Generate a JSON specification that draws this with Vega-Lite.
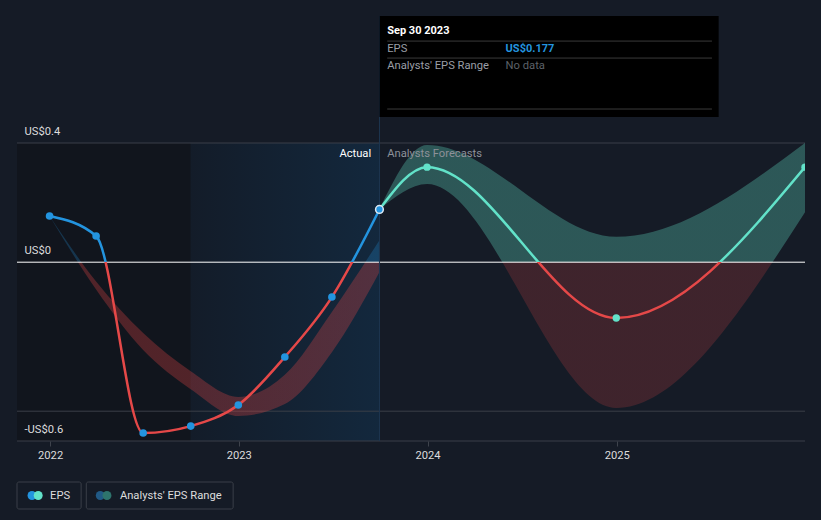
{
  "$schema": "https://vega.github.io/schema/vega-lite/v6.json",
  "autosize": "none",
  "width": 788,
  "height": 298,
  "padding": {"left": 17, "top": 143, "right": 16, "bottom": 79},
  "background": "#151b26",
  "config": {"view": {"stroke": null}, "font": "Roboto", "text": {"font": "Roboto", "fontSize": 11.2, "baseline": "middle"}},
  "data": {"values": [{"annotation": 1}]},
  "datasets": {
    "actual": [
      {"date": "2021-12-31", "eps": 0.155},
      {"date": "2022-03-31", "eps": 0.088},
      {"date": "2022-06-30", "eps": -0.573},
      {"date": "2022-09-30", "eps": -0.55},
      {"date": "2022-12-31", "eps": -0.479},
      {"date": "2023-03-31", "eps": -0.318},
      {"date": "2023-06-30", "eps": -0.117},
      {"date": "2023-09-30", "eps": 0.177}
    ],
    "forecast": [
      {"date": "2023-09-30", "eps": 0.177},
      {"date": "2023-12-31", "eps": 0.319},
      {"date": "2024-12-31", "eps": -0.187},
      {"date": "2025-12-31", "eps": 0.319}
    ],
    "pastRange": [
      {"date": "2021-12-31", "low": 0.155, "high": 0.155},
      {"date": "2022-03-31", "low": -0.092, "high": -0.065},
      {"date": "2022-06-30", "low": -0.295, "high": -0.238},
      {"date": "2022-09-30", "low": -0.426, "high": -0.366},
      {"date": "2022-12-31", "low": -0.516, "high": -0.452},
      {"date": "2023-03-31", "low": -0.476, "high": -0.378},
      {"date": "2023-06-30", "low": -0.302, "high": -0.167},
      {"date": "2023-09-30", "low": -0.033, "high": 0.074}
    ],
    "forecastRange": [
      {"date": "2023-09-30", "low": 0.177, "high": 0.177},
      {"date": "2023-12-31", "low": 0.262, "high": 0.393},
      {"date": "2024-12-31", "low": -0.489, "high": 0.085},
      {"date": "2025-12-31", "low": 0.168, "high": 0.4}
    ],
    "grid": [{"v": 0.4}, {"v": -0.5}, {"v": -0.6}],
    "tipLines": [{"v": 0.742}, {"v": 0.685}, {"v": 0.514}]
  },
  "layer": [
    {
      "mark": {"type": "rect", "color": "#11151d"},
      "encoding": {
        "x": {"datum": {"year": 2021, "month": 10, "date": 29, "utc": true}, "type": "temporal"},
        "x2": {"datum": {"year": 2022, "month": 9, "date": 30, "utc": true}},
        "y": {"datum": 0.4, "type": "quantitative"},
        "y2": {"datum": -0.6}
      }
    },
    {
      "mark": {"type": "rect", "fill": {"gradient": "linear", "x1": 0, "y1": 0, "x2": 1, "y2": 0, "stops": [{"offset": 0, "color": "#131c29"}, {"offset": 1, "color": "#13283d"}]}},
      "encoding": {
        "x": {"datum": {"year": 2022, "month": 9, "date": 30, "utc": true}, "type": "temporal"},
        "x2": {"datum": {"year": 2023, "month": 9, "date": 30, "utc": true}},
        "y": {"datum": 0.4, "type": "quantitative"},
        "y2": {"datum": -0.6}
      }
    },
    {
      "data": {"name": "grid"},
      "mark": {"type": "rule", "color": "#3a3f48", "strokeWidth": 1},
      "encoding": {"y": {"field": "v", "type": "quantitative", "title": null}}
    },
    {
      "data": {"name": "pastRange"},
      "mark": {"type": "area", "interpolate": "monotone", "clip": true, "opacity": 1,
        "fill": {"gradient": "linear", "x1": 0, "y1": 0, "x2": 0, "y2": 1, "stops": [
          {"offset": 0, "color": "rgba(35,148,223,0.25)"},
          {"offset": 0.231, "color": "rgba(35,148,223,0.25)"},
          {"offset": 0.231, "color": "rgba(230,69,69,0.3)"},
          {"offset": 1, "color": "rgba(230,69,69,0.3)"}]}},
      "encoding": {
        "x": {"field": "date", "type": "temporal", "title": null},
        "y": {"field": "high", "type": "quantitative", "title": null},
        "y2": {"field": "low"}
      }
    },
    {
      "data": {"name": "forecastRange"},
      "mark": {"type": "area", "interpolate": "monotone", "clip": true, "opacity": 1,
        "fill": {"gradient": "linear", "x1": 0, "y1": 0, "x2": 0, "y2": 1, "stops": [
          {"offset": 0, "color": "rgba(100,227,201,0.3)"},
          {"offset": 0.44994, "color": "rgba(100,227,201,0.3)"},
          {"offset": 0.44994, "color": "rgba(230,69,69,0.2)"},
          {"offset": 1, "color": "rgba(230,69,69,0.2)"}]}},
      "encoding": {
        "x": {"field": "date", "type": "temporal", "title": null},
        "y": {"field": "high", "type": "quantitative", "title": null},
        "y2": {"field": "low"}
      }
    },
    {
      "mark": {"type": "rule", "color": "#ffffff", "strokeWidth": 1},
      "encoding": {"y": {"datum": 0, "type": "quantitative"}}
    },
    {
      "mark": {"type": "rule", "color": "#1e3650", "strokeWidth": 1},
      "encoding": {
        "x": {"datum": {"year": 2023, "month": 9, "date": 30, "utc": true}, "type": "temporal"},
        "y": {"datum": 0.826, "type": "quantitative"},
        "y2": {"datum": -0.6}
      }
    },
    {
      "data": {"name": "actual"},
      "mark": {"type": "line", "interpolate": "monotone", "strokeWidth": 2.5, "clip": true,
        "stroke": {"gradient": "linear", "x1": 0, "y1": 0, "x2": 0, "y2": 1, "stops": [
          {"offset": 0, "color": "#2394df"},
          {"offset": 0.236, "color": "#2394df"},
          {"offset": 0.236, "color": "#e54848"},
          {"offset": 1, "color": "#e54848"}]}},
      "encoding": {
        "x": {"field": "date", "type": "temporal", "title": null,
          "scale": {"type": "utc", "nice": false, "domain": [{"year": 2021, "month": 10, "date": 29, "utc": true}, {"year": 2025, "month": 12, "date": 31, "utc": true}]},
          "axis": {"values": [{"year": 2022, "month": 1, "date": 1, "utc": true}, {"year": 2023, "month": 1, "date": 1, "utc": true}, {"year": 2024, "month": 1, "date": 1, "utc": true}, {"year": 2025, "month": 1, "date": 1, "utc": true}],
            "format": "%Y", "domain": false, "grid": false, "ticks": true, "tickSize": 5, "tickColor": "#3e434c",
            "labelColor": "#dddddd", "labelFontSize": 11.2, "labelFont": "Roboto", "labelPadding": 3, "labelFlush": false, "zindex": 1}},
        "y": {"field": "eps", "type": "quantitative", "title": null,
          "scale": {"domain": [-0.6, 0.4], "nice": false, "zero": false},
          "axis": {"values": [-0.6, 0, 0.4],
            "labelExpr": "datum.value == 0 ? 'US$0' : (datum.value < 0 ? '-US$' + format(-datum.value, '.1f') : 'US$' + format(datum.value, '.1f'))",
            "domain": false, "ticks": false, "tickSize": 0, "grid": false, "labelAlign": "left", "labelBaseline": "bottom",
            "labelPadding": -7, "labelOffset": -7, "labelColor": "#dddddd", "labelFontSize": 11.2, "labelFont": "Roboto", "labelFlush": false, "zindex": 1}}
      }
    },
    {
      "data": {"name": "forecast"},
      "mark": {"type": "line", "interpolate": "monotone", "strokeWidth": 2.5, "clip": true,
        "stroke": {"gradient": "linear", "x1": 0, "y1": 0, "x2": 0, "y2": 1, "stops": [
          {"offset": 0, "color": "#62e2c9"},
          {"offset": 0.6304, "color": "#62e2c9"},
          {"offset": 0.6304, "color": "#e54848"},
          {"offset": 1, "color": "#e54848"}]}},
      "encoding": {
        "x": {"field": "date", "type": "temporal", "title": null},
        "y": {"field": "eps", "type": "quantitative", "title": null}
      }
    },
    {
      "data": {"name": "actual"},
      "transform": [{"filter": "datum.eps != 0.177"}],
      "mark": {"type": "circle", "size": 58, "color": "#2394df", "opacity": 1, "clip": true},
      "encoding": {
        "x": {"field": "date", "type": "temporal", "title": null},
        "y": {"field": "eps", "type": "quantitative", "title": null}
      }
    },
    {
      "data": {"name": "forecast"},
      "transform": [{"filter": "datum.eps != 0.177"}],
      "mark": {"type": "circle", "size": 55, "color": "#62e2c9", "opacity": 1, "clip": true},
      "encoding": {
        "x": {"field": "date", "type": "temporal", "title": null},
        "y": {"field": "eps", "type": "quantitative", "title": null}
      }
    },
    {
      "data": {"name": "actual"},
      "transform": [{"filter": "datum.eps == 0.177"}],
      "mark": {"type": "circle", "size": 60, "fill": "#2394df", "stroke": "#dde8f2", "strokeWidth": 1.5, "opacity": 1},
      "encoding": {
        "x": {"field": "date", "type": "temporal", "title": null},
        "y": {"field": "eps", "type": "quantitative", "title": null}
      }
    },
    {
      "mark": {"type": "rect", "fill": "#000000"},
      "encoding": {
        "x": {"datum": {"year": 2023, "month": 9, "date": 30, "utc": true}, "type": "temporal"},
        "x2": {"datum": {"year": 2025, "month": 7, "date": 17, "utc": true}},
        "y": {"datum": 0.826, "type": "quantitative"},
        "y2": {"datum": 0.487}
      }
    },
    {
      "data": {"name": "tipLines"},
      "mark": {"type": "rule", "color": "#3a3a3a", "strokeWidth": 1},
      "encoding": {
        "x": {"datum": {"year": 2023, "month": 10, "date": 15, "utc": true}, "type": "temporal"},
        "x2": {"datum": {"year": 2025, "month": 7, "date": 4, "utc": true}},
        "y": {"field": "v", "type": "quantitative", "title": null}
      }
    },
    {
      "mark": {"type": "text", "text": "Sep 30 2023", "align": "left", "color": "#ffffff", "fontWeight": "bold", "fontSize": 11},
      "encoding": {
        "x": {"datum": {"year": 2023, "month": 10, "date": 15, "utc": true}, "type": "temporal"},
        "y": {"datum": 0.776, "type": "quantitative"}
      }
    },
    {
      "mark": {"type": "text", "text": "EPS", "align": "left", "color": "#9a9ea6"},
      "encoding": {
        "x": {"datum": {"year": 2023, "month": 10, "date": 15, "utc": true}, "type": "temporal"},
        "y": {"datum": 0.715, "type": "quantitative"}
      }
    },
    {
      "mark": {"type": "text", "text": "US$0.177", "align": "left", "color": "#2394df", "fontWeight": "bold", "fontSize": 11},
      "encoding": {
        "x": {"datum": {"year": 2024, "month": 5, "date": 31, "utc": true}, "type": "temporal"},
        "y": {"datum": 0.715, "type": "quantitative"}
      }
    },
    {
      "mark": {"type": "text", "text": "Analysts' EPS Range", "align": "left", "color": "#9a9ea6"},
      "encoding": {
        "x": {"datum": {"year": 2023, "month": 10, "date": 15, "utc": true}, "type": "temporal"},
        "y": {"datum": 0.658, "type": "quantitative"}
      }
    },
    {
      "mark": {"type": "text", "text": "No data", "align": "left", "color": "#5c6068"},
      "encoding": {
        "x": {"datum": {"year": 2024, "month": 5, "date": 31, "utc": true}, "type": "temporal"},
        "y": {"datum": 0.658, "type": "quantitative"}
      }
    },
    {
      "mark": {"type": "text", "text": "Actual", "align": "right", "color": "#ffffff"},
      "encoding": {
        "x": {"datum": {"year": 2023, "month": 9, "date": 14, "utc": true}, "type": "temporal"},
        "y": {"datum": 0.363, "type": "quantitative"}
      }
    },
    {
      "mark": {"type": "text", "text": "Analysts Forecasts", "align": "left", "color": "#8d9199"},
      "encoding": {
        "x": {"datum": {"year": 2023, "month": 10, "date": 15, "utc": true}, "type": "temporal"},
        "y": {"datum": 0.363, "type": "quantitative"}
      }
    },
    {
      "mark": {"type": "rect", "fill": null, "stroke": "#3a3f48", "strokeWidth": 1, "cornerRadius": 2},
      "encoding": {
        "x": {"datum": {"year": 2021, "month": 10, "date": 29, "utc": true}, "type": "temporal"},
        "x2": {"datum": {"year": 2022, "month": 3, "date": 2, "utc": true}},
        "y": {"datum": -0.7376, "type": "quantitative"},
        "y2": {"datum": -0.8282}
      }
    },
    {
      "mark": {"type": "rect", "fill": null, "stroke": "#3a3f48", "strokeWidth": 1, "cornerRadius": 2},
      "encoding": {
        "x": {"datum": {"year": 2022, "month": 3, "date": 12, "utc": true}, "type": "temporal"},
        "x2": {"datum": {"year": 2022, "month": 12, "date": 21, "utc": true}},
        "y": {"datum": -0.7376, "type": "quantitative"},
        "y2": {"datum": -0.8282}
      }
    },
    {
      "mark": {"type": "circle", "size": 80, "color": "#2394df", "opacity": 1},
      "encoding": {
        "x": {"datum": {"year": 2021, "month": 11, "date": 27, "utc": true}, "type": "temporal"},
        "y": {"datum": -0.783, "type": "quantitative"}
      }
    },
    {
      "mark": {"type": "circle", "size": 80, "color": "#62e2c9", "opacity": 1},
      "encoding": {
        "x": {"datum": {"year": 2021, "month": 12, "date": 9, "utc": true}, "type": "temporal"},
        "y": {"datum": -0.783, "type": "quantitative"}
      }
    },
    {
      "mark": {"type": "text", "text": "EPS", "align": "left", "color": "#dddddd"},
      "encoding": {
        "x": {"datum": {"year": 2022, "month": 1, "date": 1, "utc": true}, "type": "temporal"},
        "y": {"datum": -0.783, "type": "quantitative"}
      }
    },
    {
      "mark": {"type": "circle", "size": 80, "color": "#215a86", "opacity": 1},
      "encoding": {
        "x": {"datum": {"year": 2022, "month": 4, "date": 8, "utc": true}, "type": "temporal"},
        "y": {"datum": -0.783, "type": "quantitative"}
      }
    },
    {
      "mark": {"type": "circle", "size": 80, "color": "#2e746d", "opacity": 1},
      "encoding": {
        "x": {"datum": {"year": 2022, "month": 4, "date": 21, "utc": true}, "type": "temporal"},
        "y": {"datum": -0.783, "type": "quantitative"}
      }
    },
    {
      "mark": {"type": "text", "text": "Analysts' EPS Range", "align": "left", "color": "#dddddd"},
      "encoding": {
        "x": {"datum": {"year": 2022, "month": 5, "date": 16, "utc": true}, "type": "temporal"},
        "y": {"datum": -0.783, "type": "quantitative"}
      }
    }
  ]
}
